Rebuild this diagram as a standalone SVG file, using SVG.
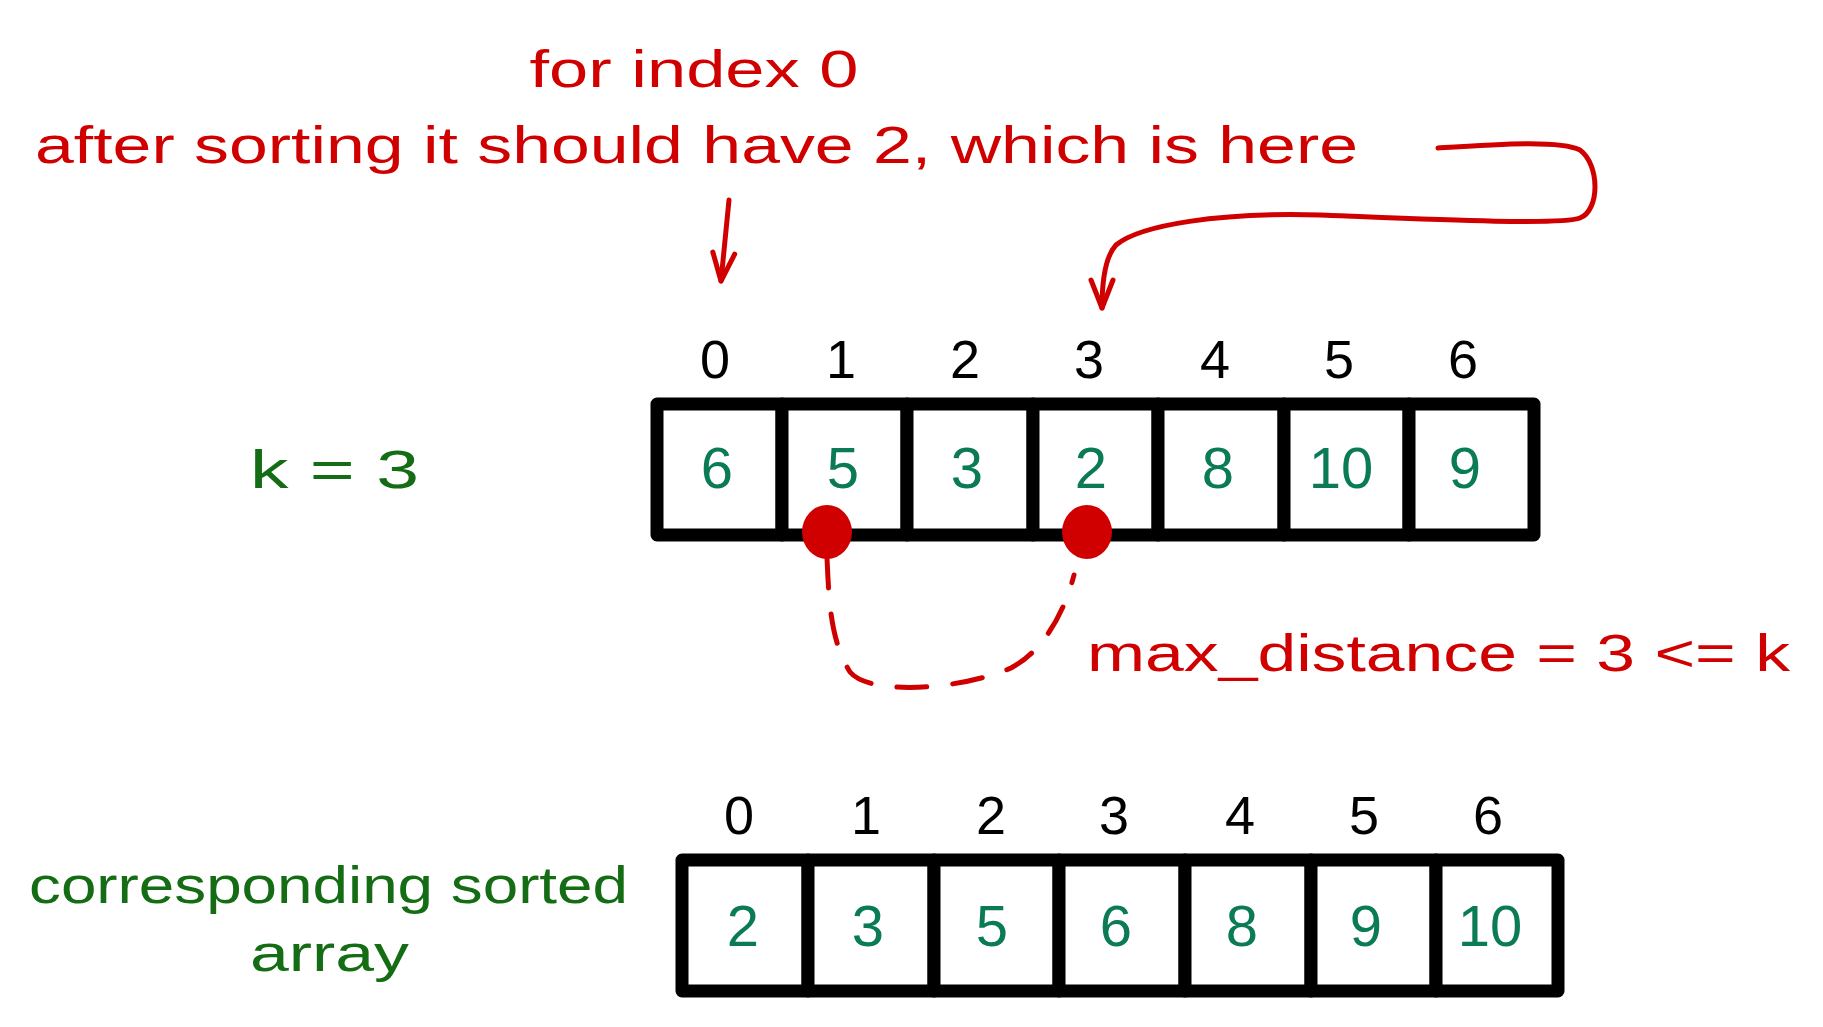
<svg xmlns="http://www.w3.org/2000/svg" width="1823" height="1027" viewBox="0 0 1823 1027">
<style>
.red{fill:#d00000;font-family:"Liberation Sans",Arial,sans-serif;}
.grn{fill:#146c14;font-family:"Liberation Sans",Arial,sans-serif;}
.idx{fill:#000;font-family:"Liberation Sans",Arial,sans-serif;font-size:54px;text-anchor:middle;}
.val{fill:#0b7a57;font-family:"Liberation Sans",Arial,sans-serif;font-size:58px;text-anchor:middle;}
.cell{fill:#fff;stroke:#000;stroke-width:13;stroke-linejoin:round;}
.conn{fill:none;stroke:#d00000;stroke-width:5;stroke-linecap:round;stroke-linejoin:round;}
</style>
<defs>
<marker id="ah" markerUnits="userSpaceOnUse" markerWidth="44" markerHeight="44" refX="34" refY="18" orient="auto">
<path d="M6,7 L34,18 L6,29" fill="none" stroke="#d00000" stroke-width="5" stroke-linecap="round" stroke-linejoin="round"/>
</marker>
</defs>
<rect width="1823" height="1027" fill="#fff"/>

<g id="labels">
<text class="red" x="694" y="87" font-size="52" text-anchor="middle" textLength="329" lengthAdjust="spacingAndGlyphs">for index 0</text>
<text class="red" x="35" y="163" font-size="52" textLength="1323" lengthAdjust="spacingAndGlyphs">after sorting it should have 2, which is here</text>
<text class="grn" x="250" y="488" font-size="54" textLength="169" lengthAdjust="spacingAndGlyphs">k = 3</text>
<text class="red" x="1087" y="671" font-size="52" textLength="703" lengthAdjust="spacingAndGlyphs">max_distance = 3 &lt;= k</text>
<text class="grn" x="29" y="903" font-size="52" textLength="599" lengthAdjust="spacingAndGlyphs">corresponding sorted</text>
<text class="grn" x="250" y="971" font-size="52" textLength="159" lengthAdjust="spacingAndGlyphs">array</text>
</g>

<g id="top-indices">
<text class="idx" x="715" y="378">0</text>
<text class="idx" x="841" y="378">1</text>
<text class="idx" x="965" y="378">2</text>
<text class="idx" x="1089" y="378">3</text>
<text class="idx" x="1215" y="378">4</text>
<text class="idx" x="1339" y="378">5</text>
<text class="idx" x="1463" y="378">6</text>
</g>

<g id="top-array">
<g id="top-cell-0"><rect class="cell" x="657" y="404" width="125" height="131"/><text class="val" x="717" y="488">6</text></g>
<g id="top-cell-1"><rect class="cell" x="782" y="404" width="125" height="131"/><text class="val" x="843" y="488">5</text></g>
<g id="top-cell-2"><rect class="cell" x="907" y="404" width="126" height="131"/><text class="val" x="967" y="488">3</text></g>
<g id="top-cell-3"><rect class="cell" x="1033" y="404" width="125" height="131"/><text class="val" x="1091" y="488">2</text></g>
<g id="top-cell-4"><rect class="cell" x="1158" y="404" width="126" height="131"/><text class="val" x="1218" y="488">8</text></g>
<g id="top-cell-5"><rect class="cell" x="1284" y="404" width="125" height="131"/><text class="val" x="1341" y="488">10</text></g>
<g id="top-cell-6"><rect class="cell" x="1409" y="404" width="125" height="131"/><text class="val" x="1465" y="488">9</text></g>
</g>

<g id="bottom-indices">
<text class="idx" x="739" y="834">0</text>
<text class="idx" x="866" y="834">1</text>
<text class="idx" x="991" y="834">2</text>
<text class="idx" x="1114" y="834">3</text>
<text class="idx" x="1240" y="834">4</text>
<text class="idx" x="1364" y="834">5</text>
<text class="idx" x="1488" y="834">6</text>
</g>

<g id="bottom-array">
<g id="bot-cell-0"><rect class="cell" x="682" y="860" width="126" height="131"/><text class="val" x="743" y="946">2</text></g>
<g id="bot-cell-1"><rect class="cell" x="808" y="860" width="126" height="131"/><text class="val" x="868" y="946">3</text></g>
<g id="bot-cell-2"><rect class="cell" x="934" y="860" width="125" height="131"/><text class="val" x="992" y="946">5</text></g>
<g id="bot-cell-3"><rect class="cell" x="1059" y="860" width="126" height="131"/><text class="val" x="1116" y="946">6</text></g>
<g id="bot-cell-4"><rect class="cell" x="1185" y="860" width="126" height="131"/><text class="val" x="1242" y="946">8</text></g>
<g id="bot-cell-5"><rect class="cell" x="1311" y="860" width="125" height="131"/><text class="val" x="1366" y="946">9</text></g>
<g id="bot-cell-6"><rect class="cell" x="1436" y="860" width="122" height="131"/><text class="val" x="1490" y="946">10</text></g>
</g>

<g id="connectors">
<path class="conn" d="M729,200 L721,281" marker-end="url(#ah)"/>
<path class="conn" d="M1438,148 C1500,144 1560,140 1580,150 C1600,165 1600,210 1580,218 C1560,226 1400,218 1320,215 C1220,212 1140,225 1116,245 C1104,258 1102,285 1102,308" marker-end="url(#ah)"/>
<path class="conn" d="M827,558 C829,600 830,640 850,672 C870,696 960,690 1011,668 C1045,650 1065,610 1074,575" stroke-dasharray="30 26"/>
</g>

<g id="markers">
<ellipse cx="827" cy="532" rx="25" ry="27" fill="#d00000"/>
<ellipse cx="1087" cy="532" rx="25" ry="27" fill="#d00000"/>
</g>
</svg>
